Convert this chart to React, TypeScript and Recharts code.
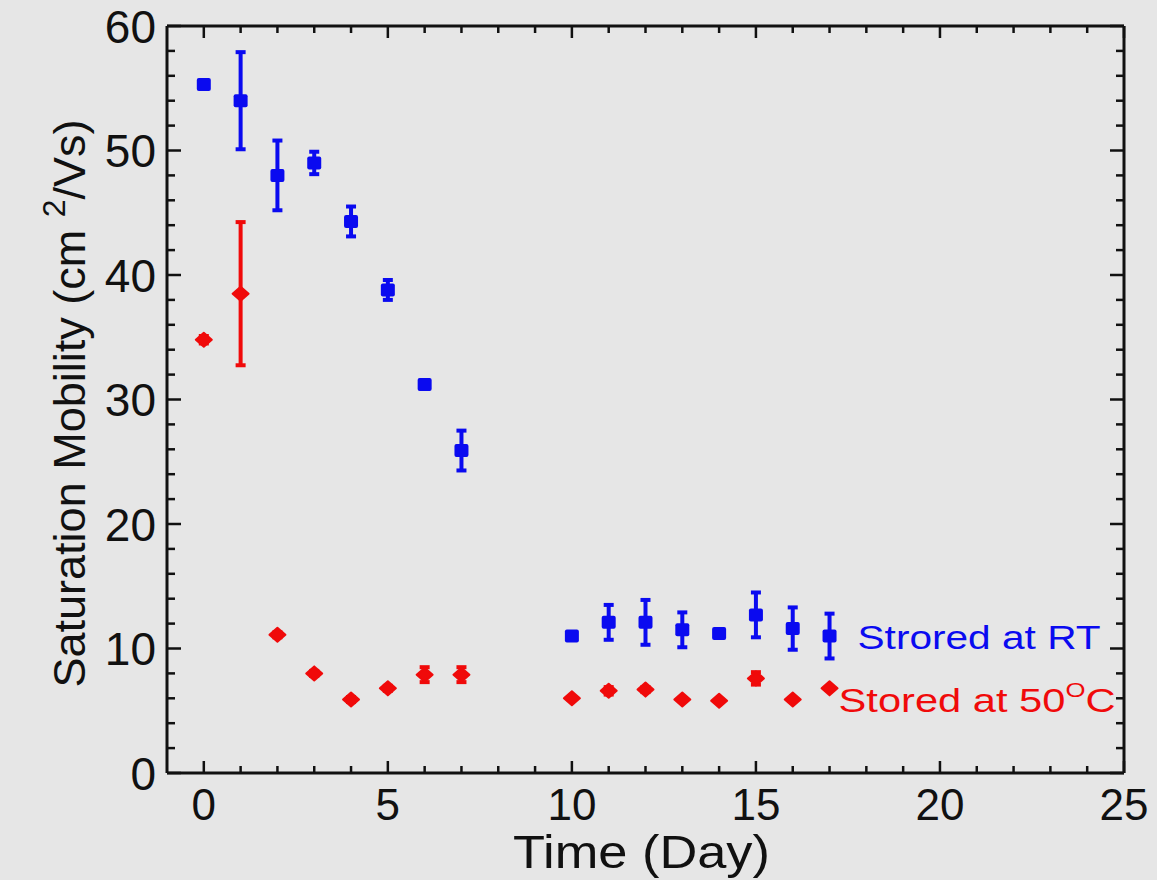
import React from "react";
import { ScatterChart, Scatter, XAxis, YAxis, ErrorBar } from "recharts";

// Saturation mobility vs storage time, two storage conditions
const days = [0, 1, 2, 3, 4, 5, 6, 7, 10, 11, 12, 13, 14, 15, 16, 17];
const rtMobility = [55.3, 54, 48, 49, 44.3, 38.8, 31.2, 25.9, 11.0, 12.1, 12.1, 11.5, 11.2, 12.7, 11.6, 11.0];
const rtError = [0.3, 3.9, 2.8, 0.9, 1.2, 0.8, 0.3, 1.6, 0.3, 1.4, 1.8, 1.4, 0.3, 1.8, 1.7, 1.8];
const hotMobility = [34.8, 38.5, 11.1, 8.0, 5.9, 6.8, 7.9, 7.9, 6.0, 6.6, 6.7, 5.9, 5.8, 7.6, 5.9, 6.8];
const hotError = [0.3, 5.75, 0.2, 0.2, 0.2, 0.2, 0.6, 0.6, 0.1, 0.3, 0.2, 0.1, 0.1, 0.5, 0.1, 0.1];

const xTicks = [0, 1, 2, 3, 4, 5, 6, 7, 8, 9, 10, 11, 12, 13, 14, 15, 16, 17, 18, 19, 20, 21, 22, 23, 24, 25];
const yTicks = [0, 2, 4, 6, 8, 10, 12, 14, 16, 18, 20, 22, 24, 26, 28, 30, 32, 34, 36, 38, 40, 42, 44, 46, 48, 50, 52, 54, 56, 58, 60];

const rtData = days.map((d, i) => ({ day: d, mobility: rtMobility[i], err: rtError[i] }));
const hotData = days.map((d, i) => ({ day: d, mobility: hotMobility[i], err: hotError[i] }));

const FONT = "'Liberation Sans', Arial, sans-serif";
const BLUE = "#0a0af0";
const RED = "#f00a0a";
const lastDay = days[days.length - 1];

function BottomTick({ x, y, payload }: any) {
  const major = payload.value % 5 === 0;
  return (
    <g>
      <line x1={x} x2={x} y1={y} y2={y - (major ? 12 : 7)} stroke="#111" strokeWidth={2.5} />
      {major && (
        <text x={x} y={y + 47} textAnchor="middle" fontSize={44} fontFamily={FONT} fill="#111">
          {payload.value}
        </text>
      )}
    </g>
  );
}

function TopTick({ x, y, payload }: any) {
  const major = payload.value % 5 === 0;
  return <line x1={x} x2={x} y1={y} y2={y + (major ? 12 : 7)} stroke="#111" strokeWidth={2.5} />;
}

function LeftTick({ x, y, payload }: any) {
  const major = payload.value % 10 === 0;
  return (
    <g>
      <line x1={x} x2={x + (major ? 14 : 8)} y1={y} y2={y} stroke="#111" strokeWidth={2.5} />
      {major && (
        <text x={x - 11} y={y} dy="0.36em" textAnchor="end" fontSize={46} fontFamily={FONT} fill="#111">
          {payload.value}
        </text>
      )}
    </g>
  );
}

function RightTick({ x, y, payload }: any) {
  const major = payload.value % 10 === 0;
  return <line x1={x} x2={x - (major ? 14 : 8)} y1={y} y2={y} stroke="#111" strokeWidth={2.5} />;
}

function RtPoint({ cx, cy, payload }: any) {
  return (
    <g>
      <rect x={cx - 7} y={cy - 6.5} width={14} height={13} rx={2} fill={BLUE} />
      {payload.day === lastDay && (
        <text x={cx + 28} y={cy + 13} fontSize={34} fontFamily={FONT} fill={BLUE} textLength={243} lengthAdjust="spacingAndGlyphs">
          Strored at RT
        </text>
      )}
    </g>
  );
}

function HotPoint({ cx, cy, payload }: any) {
  return (
    <g>
      <polygon
        points={`${cx - 8},${cy} ${cx},${cy - 7} ${cx + 8},${cy} ${cx},${cy + 7}`}
        fill={RED}
        stroke={RED}
        strokeWidth={2}
        strokeLinejoin="round"
      />
      {payload.day === lastDay && (
        <text x={cx + 9} y={cy + 24} fontSize={34} fontFamily={FONT} fill={RED} textLength={277} lengthAdjust="spacingAndGlyphs">
          <tspan>Stored  at 50</tspan>
          <tspan dy={-15} fontSize={21}>O</tspan>
          <tspan dy={15}>C</tspan>
        </text>
      )}
    </g>
  );
}

function XTitle({ viewBox }: any) {
  return (
    <text
      x={viewBox.x + viewBox.width / 2 - 4}
      y={viewBox.y + 95}
      textAnchor="middle"
      fontSize={46}
      fontFamily={FONT}
      fill="#111"
      textLength={257}
      lengthAdjust="spacingAndGlyphs"
    >
      Time (Day)
    </text>
  );
}

function YTitle({ viewBox }: any) {
  const cx = viewBox.x - 81;
  const cy = viewBox.y + viewBox.height / 2 + 4;
  return (
    <text transform={`translate(${cx},${cy}) rotate(-90)`} textAnchor="middle" fontSize={45} fontFamily={FONT} fill="#111">
      <tspan>Saturation Mobility (cm </tspan>
      <tspan dy={-20} fontSize={32}>2</tspan>
      <tspan dy={20}>/Vs)</tspan>
    </text>
  );
}

const axisLine = { stroke: "#111", strokeWidth: 3 };

export default function App() {
  return (
    <div style={{ position: "absolute", left: 0, top: 0, width: 1157, height: 880, background: "#e6e6e6" }}>
      <ScatterChart width={1157} height={880} margin={{ top: 25, right: 32, bottom: 106, left: 166 }}>
        <XAxis
          xAxisId="b"
          dataKey="day"
          type="number"
          domain={[-1, 25]}
          ticks={xTicks}
          allowDataOverflow
          height={1}
          tickSize={0}
          tickMargin={0}
          tickLine={false}
          axisLine={axisLine}
          tick={<BottomTick />}
          interval={0}
          label={<XTitle />}
        />
        <XAxis
          xAxisId="t"
          orientation="top"
          dataKey="day"
          type="number"
          domain={[-1, 25]}
          ticks={xTicks}
          allowDataOverflow
          height={1}
          tickSize={0}
          tickMargin={0}
          tickLine={false}
          axisLine={axisLine}
          tick={<TopTick />}
          interval={0}
        />
        <YAxis
          yAxisId="l"
          dataKey="mobility"
          type="number"
          domain={[0, 60]}
          ticks={yTicks}
          allowDataOverflow
          width={1}
          tickSize={0}
          tickMargin={0}
          tickLine={false}
          axisLine={axisLine}
          tick={<LeftTick />}
          interval={0}
          label={<YTitle />}
        />
        <YAxis
          yAxisId="r"
          orientation="right"
          dataKey="mobility"
          type="number"
          domain={[0, 60]}
          ticks={yTicks}
          allowDataOverflow
          width={1}
          tickSize={0}
          tickMargin={0}
          tickLine={false}
          axisLine={axisLine}
          tick={<RightTick />}
          interval={0}
        />
        <Scatter xAxisId="b" yAxisId="l" data={rtData} shape={<RtPoint />} isAnimationActive={false}>
          <ErrorBar dataKey="err" direction="y" width={5} stroke={BLUE} strokeWidth={4} isAnimationActive={false} />
        </Scatter>
        <Scatter xAxisId="b" yAxisId="l" data={hotData} shape={<HotPoint />} isAnimationActive={false}>
          <ErrorBar dataKey="err" direction="y" width={5} stroke={RED} strokeWidth={4} isAnimationActive={false} />
        </Scatter>
      </ScatterChart>
    </div>
  );
}
